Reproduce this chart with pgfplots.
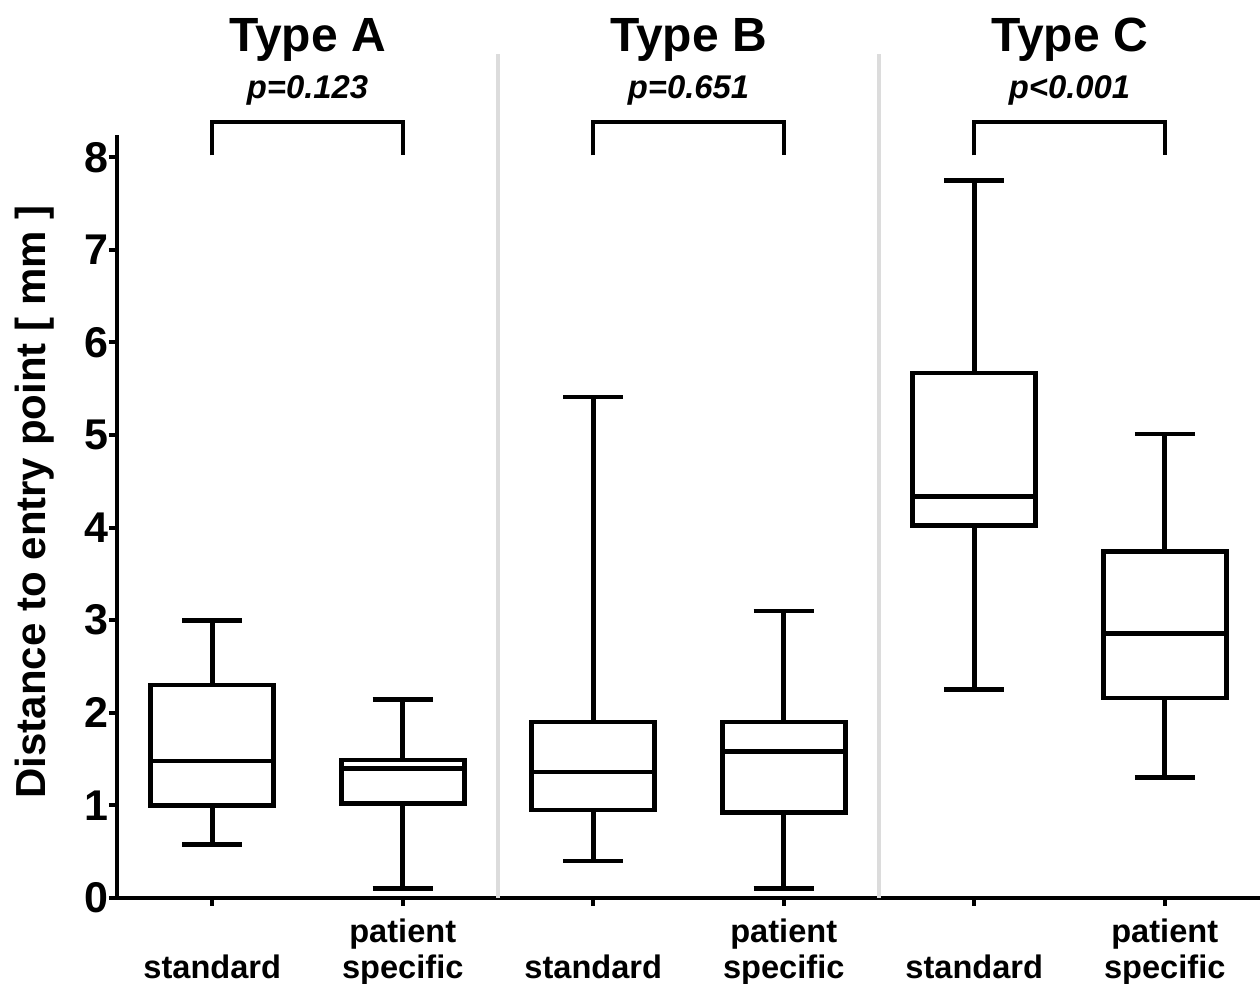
\documentclass[border=0pt]{standalone}
\usepackage{fontspec}
\setmainfont{Liberation Sans}
\usepackage{pgfplots}
\pgfplotsset{compat=1.18}
\usepgfplotslibrary{statistics}
\definecolor{sepgray}{HTML}{DCDCDC}
\begin{document}
\begin{tikzpicture}
\begin{axis}[
  scale only axis,
  width=571.5pt, height=381.5pt,
  xmin=-0.5, xmax=5.5, ymin=0, ymax=8.24,
  axis lines=left,
  axis line style={-, line width=2pt, black},
  clip=false,
  boxplot/draw direction=y,
  xtick={0,1,2,3,4,5},
  xticklabels={{\rule{0pt}{12pt}\\standard},{\rule{0pt}{12pt}patient\\specific},{\rule{0pt}{12pt}\\standard},{\rule{0pt}{12pt}patient\\specific},{\rule{0pt}{12pt}\\standard},{\rule{0pt}{12pt}patient\\specific}},
  ytick={0,1,2,3,4,5,6,7,8},
  tick align=outside,
  major tick length=4pt,
  tick style={line width=2pt, black},
  /pgf/number format/assume math mode=true,
  yticklabel style={font=\bfseries\fontsize{21.5}{21.5}\selectfont, inner xsep=0pt},
  xticklabel style={font=\bfseries\fontsize{16.3}{18}\selectfont, align=center, anchor=north, inner sep=0pt, yshift=-6pt},
  ylabel={\bfseries Distance to entry point [ mm ]},
  ylabel style={font=\fontsize{21}{21}\selectfont, at={(axis description cs:0,0.519)}, anchor=center, yshift=41pt},
]
\draw[sepgray, line width=2pt] (axis cs:1.5,0) -- (axis cs:1.5,9.12);
\draw[sepgray, line width=2pt] (axis cs:3.5,0) -- (axis cs:3.5,9.12);

\addplot[draw=black, line width=2.4pt, boxplot prepared={lower whisker=0.58, lower quartile=1.0, median=1.48, upper quartile=2.30, upper whisker=3.0, draw position=0, box extend=0.646, whisker extend=0.315}] coordinates {};
\addplot[draw=black, line width=2.4pt, boxplot prepared={lower whisker=0.10, lower quartile=1.02, median=1.40, upper quartile=1.49, upper whisker=2.14, draw position=1, box extend=0.646, whisker extend=0.315}] coordinates {};
\addplot[draw=black, line width=2.4pt, boxplot prepared={lower whisker=0.40, lower quartile=0.95, median=1.36, upper quartile=1.90, upper whisker=5.41, draw position=2, box extend=0.646, whisker extend=0.315}] coordinates {};
\addplot[draw=black, line width=2.4pt, boxplot prepared={lower whisker=0.10, lower quartile=0.92, median=1.58, upper quartile=1.90, upper whisker=3.10, draw position=3, box extend=0.646, whisker extend=0.315}] coordinates {};
\addplot[draw=black, line width=2.4pt, boxplot prepared={lower whisker=2.25, lower quartile=4.02, median=4.34, upper quartile=5.67, upper whisker=7.75, draw position=4, box extend=0.646, whisker extend=0.315}] coordinates {};
\addplot[draw=black, line width=2.4pt, boxplot prepared={lower whisker=1.30, lower quartile=2.16, median=2.86, upper quartile=3.74, upper whisker=5.01, draw position=5, box extend=0.646, whisker extend=0.315}] coordinates {};

\draw[line width=2pt] (axis cs:0,8.02) |- (axis cs:1,8.38) -- (axis cs:1,8.02);
\draw[line width=2pt] (axis cs:2,8.02) |- (axis cs:3,8.38) -- (axis cs:3,8.02);
\draw[line width=2pt] (axis cs:4,8.02) |- (axis cs:5,8.38) -- (axis cs:5,8.02);

\node[anchor=base, font=\bfseries\fontsize{24}{24}\selectfont] at (axis cs:0.5,9.14) {Type A};
\node[anchor=base, font=\bfseries\fontsize{24}{24}\selectfont] at (axis cs:2.5,9.14) {Type B};
\node[anchor=base, font=\bfseries\fontsize{24}{24}\selectfont] at (axis cs:4.5,9.14) {Type C};
\node[anchor=base, font=\bfseries\itshape\fontsize{16.4}{16.4}\selectfont] at (axis cs:0.5,8.63) {p=0.123};
\node[anchor=base, font=\bfseries\itshape\fontsize{16.4}{16.4}\selectfont] at (axis cs:2.5,8.63) {p=0.651};
\node[anchor=base, font=\bfseries\itshape\fontsize{16.4}{16.4}\selectfont] at (axis cs:4.5,8.63) {p<0.001};
\end{axis}
\pgfresetboundingbox
\path ([xshift=-58.5pt,yshift=-43pt]current axis.south west) rectangle ([yshift=67.5pt]current axis.north east);
\end{tikzpicture}
\end{document}
